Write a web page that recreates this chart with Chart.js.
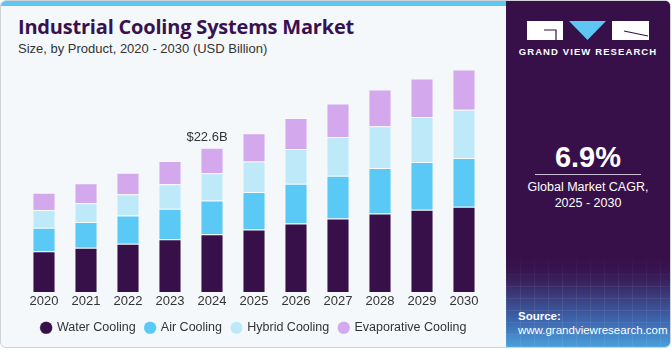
<!DOCTYPE html>
<html>
<head>
<meta charset="utf-8">
<script src="https://cdn.jsdelivr.net/npm/chart.js@4.4.0/dist/chart.umd.min.js"></script>
<style>
    html, body { margin: 0; padding: 0; background: #ffffff; }
    .card {
        position: relative; width: 669px; height: 346px; overflow: hidden;
        border: 1px solid #cfd3d8; border-radius: 6px; background: #f4f8fb;
        font-family: "Liberation Sans", Arial, sans-serif;
    }
    .topbar { position: absolute; left: 0; top: 0; width: 505px; height: 5px; background: #5ec6f2; }
    .title { position: absolute; left: 17px; top: 14px; font-family: "Open Sans", sans-serif; font-weight: 700; font-size: 20px; line-height: 24px; color: #3a1150; letter-spacing: -0.2px; }
    .subtitle { position: absolute; left: 17px; top: 40px; font-size: 13px; color: #333; }
    .chartbox { position: absolute; left: 0; top: 55px; width: 505px; height: 291px; }
    .panel {
        position: absolute; left: 505px; top: 0; width: 164px; height: 346px; color: #fff; text-align: center;
        background:
            repeating-linear-gradient(90deg, rgba(255,255,255,0.07) 0 1px, transparent 1px 14px),
            repeating-linear-gradient(0deg, rgba(255,255,255,0.07) 0 1px, transparent 1px 12px),
            linear-gradient(180deg, #37104a 0%, #37104a 74%, #3a3474 84%, #3d6ab2 93%, #4aa0dc 100%);
    }
    .panel .mask { position: absolute; left: 0; top: 0; width: 100%; height: 290px; background: linear-gradient(180deg, #37104a 0%, #37104a 88%, rgba(55,16,74,0) 100%); }
    .logo { position: absolute; left: 21px; top: 20px; }
    .brand { position: absolute; left: 0; width: 164px; top: 45px; font-size: 9.5px; font-weight: 700; letter-spacing: 1.1px; }
    .cagr { position: absolute; left: 0; width: 164px; top: 140px; font-size: 29px; font-weight: 700; }
    .rule { position: absolute; left: 29px; width: 106px; top: 173px; height: 1px; background: #c9bcd3; }
    .desc { position: absolute; left: 0; width: 164px; top: 178px; font-size: 12.5px; line-height: 16px; }
    .src { position: absolute; left: 12px; top: 308px; font-size: 11.5px; text-align: left; line-height: 14px; }
</style>
</head>
<body>
<div class="card">
    <div class="topbar"></div>
    <div class="title">Industrial Cooling Systems Market</div>
    <div class="subtitle">Size, by Product, 2020 - 2030 (USD Billion)</div>
    <div class="chartbox"><canvas id="cooling-chart"></canvas></div>
    <div class="panel">
        <div class="mask"></div>
        <svg class="logo" width="122" height="20" viewBox="0 0 122 20">
            <rect x="0" y="0" width="36" height="19" fill="#fff"/>
            <path d="M17 9 H29 V19" stroke="#37104a" stroke-width="1.2" fill="none"/>
            <polygon points="42,0 79,0 60.5,19" fill="#5ec6f2"/>
            <rect x="85" y="0" width="37" height="19" fill="#fff"/>
            <path d="M97 10 L121 15" stroke="#37104a" stroke-width="1.2" fill="none"/>
        </svg>
        <div class="brand">GRAND VIEW RESEARCH</div>
        <div class="cagr">6.9%</div>
        <div class="rule"></div>
        <div class="desc">Global Market CAGR,<br>2025 - 2030</div>
        <div class="src"><b>Source:</b><br>www.grandviewresearch.com</div>
    </div>
</div>
<script>
const years = ['2020', '2021', '2022', '2023', '2024', '2025', '2026', '2027', '2028', '2029', '2030'];
const waterCooling = [6.36, 6.92, 7.54, 8.23, 9.01, 9.79, 10.72, 11.50, 12.28, 12.86, 13.32];
const airCooling = [3.69, 4.01, 4.44, 4.78, 5.31, 5.87, 6.20, 6.67, 7.14, 7.50, 7.65];
const hybridCooling = [2.76, 2.97, 3.33, 3.86, 4.26, 4.75, 5.47, 6.09, 6.51, 7.03, 7.54];
const evaporativeCooling = [2.70, 3.12, 3.33, 3.64, 4.01, 4.42, 4.84, 5.26, 5.78, 6.04, 6.31];
const highlightIndex = 4;
const highlightLabel = '$22.6B';

// label over the 2024 stack
const totalLabel = {
    id: 'totalLabel',
    afterDatasetsDraw(chart) {
        const meta = chart.getDatasetMeta(chart.data.datasets.length - 1);
        const bar = meta.data[highlightIndex];
        const ctx = chart.ctx;
        ctx.save();
        ctx.font = '13px "Liberation Sans", Arial, sans-serif';
        ctx.fillStyle = '#333333';
        ctx.textAlign = 'center';
        ctx.textBaseline = 'bottom';
        ctx.fillText(highlightLabel, bar.x - 5, bar.y - 4);
        ctx.restore();
    }
};

function series(label, values, color) {
    return {
        label: label,
        data: values,
        backgroundColor: color,
        borderColor: 'rgba(255,255,255,0.3)',
        borderWidth: 1,
        barPercentage: 0.55,
        categoryPercentage: 1.0
    };
}

new Chart(document.getElementById('cooling-chart'), {
    type: 'bar',
    plugins: [totalLabel],
    data: {
        labels: years,
        datasets: [
            series('Water Cooling', waterCooling, '#37104a'),
            series('Air Cooling', airCooling, '#5bc9f5'),
            series('Hybrid Cooling', hybridCooling, '#bde9f9'),
            series('Evaporative Cooling', evaporativeCooling, '#d4a8ec')
        ]
    },
    options: {
        responsive: true,
        maintainAspectRatio: false,
        animation: false,
        layout: { padding: { left: 22, right: 21, top: 6, bottom: 3 } },
        plugins: {
            tooltip: { enabled: false },
            legend: {
                position: 'bottom',
                labels: {
                    usePointStyle: true,
                    pointStyle: 'circle',
                    boxWidth: 9,
                    boxHeight: 9,
                    padding: 10,
                    color: '#333333',
                    font: { family: '"Liberation Sans", Arial, sans-serif', size: 12.5 }
                }
            }
        },
        scales: {
            x: {
                stacked: true,
                grid: { display: false, drawTicks: false, tickLength: 0 },
                border: { display: false },
                ticks: { color: '#333333', padding: 2, font: { family: '"Liberation Sans", Arial, sans-serif', size: 13 } }
            },
            y: {
                stacked: true,
                display: false,
                min: 0,
                max: 36
            }
        }
    }
});
</script>
</body>
</html>
